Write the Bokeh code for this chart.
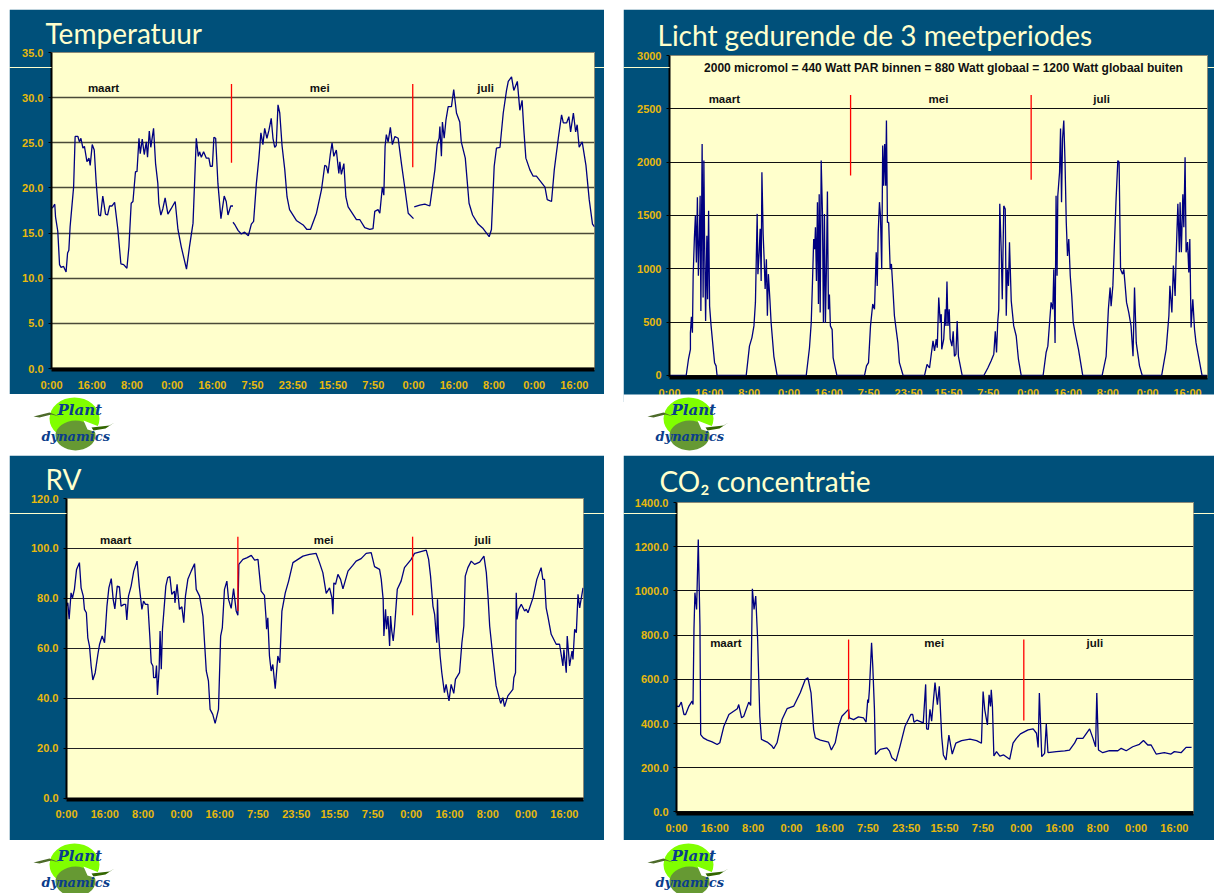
from bokeh.plotting import figure
from bokeh.embed import file_html
from bokeh.resources import INLINE
from bokeh.layouts import row, column
from bokeh.models import Range1d, FixedTicker, NumeralTickFormatter, LinearAxis
from bokeh.core.properties import value

nan = float("nan")
tick_hours = [0, 16, 32, 48, 64, 80, 96, 112, 128, 144, 160, 176, 192, 208]
tick_labels = ["0:00", "16:00", "8:00", "0:00", "16:00", "7:50", "23:50", "15:50", "7:50", "0:00", "16:00", "8:00", "0:00", "16:00"]
months = ["maart", "mei", "juli"]
note_text = "2000 micromol = 440 Watt PAR binnen = 880 Watt globaal = 1200 Watt globaal buiten"

temp_h = [0.3,1.3,1.6,2.5,3.2,3.8,4.8,5.8,6.4,6.9,7.4,8.0,8.8,9.4,10.5,11.1,11.7,12.5,13.1,14.1,14.9,15.4,16.2,17.0,17.8,18.8,19.5,20.4,21.5,22.3,23.1,24.1,25.1,26.4,27.6,28.7,30.0,30.8,31.7,32.4,33.4,34.0,34.8,35.3,36.1,36.9,37.7,38.2,38.9,39.5,40.6,41.4,42.3,42.7,43.5,44.3,45.2,46.3,47.6,49.2,50.3,51.6,53.7,54.9,56.3,57.6,58.4,58.9,59.6,60.5,61.6,62.6,63.2,64.0,64.6,65.3,66.2,67.4,68.7,69.5,70.2,71.3,72.2,nan,
 72.2,73.0,74.2,75.5,76.8,78.3,79.5,80.4,81.5,82.5,83.3,84.1,84.8,85.7,86.5,87.4,88.1,88.8,89.4,90.1,90.8,91.7,92.8,93.7,94.7,97.4,100.1,101.6,103.0,105.4,107.4,108.7,109.4,110.0,110.9,111.6,112.3,113.3,114.3,114.7,115.3,116.3,117.1,118.0,121.3,122.6,124.6,126.6,127.9,128.6,129.9,130.6,131.6,132.2,132.7,133.2,133.9,134.8,135.6,136.6,137.9,139.2,140.5,141.9,144.0,nan,
 144.3,146.5,148.5,150.5,152.5,153.4,154.2,154.5,155.1,155.5,156.2,156.9,157.8,159.1,160.0,161.1,162.4,163.0,164.6,166.1,167.5,169.7,171.7,174.1,175.0,176.1,177.0,178.4,179.7,181.0,181.7,183.0,183.9,185.3,186.3,187.2,187.9,188.7,190.3,191.6,192.9,196.3,197.2,198.9,200.0,201.6,202.9,203.6,204.9,205.8,206.5,207.6,208.5,209.1,209.9,211.1,212.6,213.9,215.2,216.0]
temp_v = [17.75,18.2,16.8,15.2,11.5,11.2,11.3,10.7,12.8,13.1,15.7,17.6,20.1,25.7,25.7,25.1,25.5,24.4,24.6,22.9,23.3,22.5,24.8,24.2,20.5,17.0,16.9,19.1,17.1,17.0,18.0,18.0,18.4,15.4,11.6,11.5,11.1,13.5,18.3,18.5,21.8,21.8,25.5,23.8,25.4,23.7,25.1,23.4,26.3,24.5,26.6,22.7,20.5,18.3,17.0,17.7,18.9,17.1,17.7,18.5,15.4,13.5,11.0,13.5,16.1,25.5,23.5,24.0,23.4,24.0,23.3,23.3,22.4,22.4,25.6,25.5,20.5,16.6,19.1,18.5,17.0,18.0,18.0,nan,
 16.2,15.9,15.3,14.9,15.1,14.7,16.0,16.3,20.5,23.3,26.1,24.8,26.6,25.5,26.4,27.7,25.5,24.5,24.7,29.2,28.3,24.7,22.0,19.0,17.6,16.4,15.9,15.4,15.4,17.2,19.8,22.5,22.4,21.6,23.7,25.0,23.5,24.2,21.6,22.9,21.5,22.7,19.0,17.9,16.5,16.5,15.6,15.4,15.5,17.4,17.6,17.2,20.1,19.2,24.6,25.9,25.1,26.7,24.8,25.7,25.5,22.7,20.1,17.2,16.6,nan,
 17.9,18.1,18.2,18.0,22.0,24.8,25.5,26.8,23.5,27.3,25.5,27.5,29.0,29.0,30.9,28.3,27.3,25.1,23.3,18.3,17.0,16.0,15.5,14.6,15.4,22.4,24.4,24.5,28.3,30.8,31.8,32.3,30.8,31.8,28.6,29.7,26.4,23.3,22.0,21.3,21.3,20.1,18.7,18.5,22.0,25.5,28.1,27.2,27.2,27.9,26.2,28.3,26.2,27.0,24.5,25.1,22.5,18.7,16.0,15.7]

licht_h = [0,6.7,7.6,8.4,8.4,8.8,9.2,9.5,10.0,10.4,10.8,11.2,11.6,12.0,12.3,12.6,13.1,13.5,13.8,14.1,14.5,15.0,15.3,15.7,16.1,16.7,17.7,18.1,18.7,19.1,30.8,32.1,33.1,33.9,34.5,35.2,35.5,36.0,36.4,36.8,37.1,37.6,38.0,38.4,38.9,39.3,39.7,40.3,40.8,41.9,43.2,54.9,56.2,56.9,57.4,57.9,58.3,58.6,59.0,59.4,59.8,60.1,60.5,60.9,61.4,61.8,62.2,62.6,63.0,63.4,63.8,64.2,64.6,65.3,65.7,67.2,78.3,79.1,79.9,80.7,81.6,82.3,83.0,83.4,83.8,84.3,84.7,85.2,85.6,86.0,86.4,86.8,87.1,87.5,88.0,88.6,89.1,89.7,90.3,91.0,91.7,92.3,93.8,102.4,103.4,104.4,105.0,105.8,106.4,107.1,107.5,108.1,108.7,109.1,109.3,110.1,110.7,111.0,111.4,111.8,112.3,112.7,113.4,113.9,114.4,115.0,115.5,116.0,117.5,126.2,127.8,129.1,130.2,130.8,131.3,131.8,132.2,132.6,133.2,133.6,134.2,134.8,135.2,135.6,136.1,136.5,137.2,138.2,139.2,140.1,141.2,150.0,151.2,151.9,152.6,153.2,153.9,154.3,154.8,155.2,155.6,155.9,156.6,157.0,157.4,157.8,158.3,158.8,159.3,159.8,160.3,160.9,161.5,162.1,163.1,164.2,165.9,173.7,175.3,176.2,176.9,177.3,178.0,179.3,180.0,180.5,181.1,181.9,182.4,182.8,183.5,184.4,185.3,186.1,186.7,187.4,188.7,189.8,197.6,199.4,200.5,200.9,201.7,202.3,203.0,203.4,204.1,204.7,205.0,205.5,206.1,206.5,207.0,207.4,208.0,208.5,208.9,209.4,210.1,210.8,211.4,212.4,213.8,215.7]
licht_v = [0,0,150,245,400,550,400,935,1295,1500,1060,1670,935,1310,1685,605,2170,730,2015,1250,510,1310,715,1545,650,465,215,120,90,0,0,275,355,465,685,1515,950,1155,1375,885,1905,1325,1090,810,1090,560,950,715,495,180,0,0,260,495,870,1280,1185,1390,885,1625,670,1700,590,2015,1530,495,1515,495,995,1725,620,760,465,430,165,0,0,90,120,465,670,620,1155,840,1340,1625,1500,995,2155,1780,2170,1780,2390,1435,1435,995,1045,810,560,430,305,120,0,0,105,70,180,325,230,340,260,730,495,575,245,340,620,465,880,465,620,340,275,415,180,200,510,180,0,0,70,135,200,415,215,510,620,1610,1155,715,1590,1560,560,995,840,1250,700,465,370,150,0,0,215,275,495,685,620,995,305,1685,935,1685,1905,2315,1625,2220,2390,2000,1435,1120,1280,935,745,495,370,245,0,0,180,620,825,650,840,1655,2015,2000,995,950,995,885,685,590,465,180,825,305,90,0,0,245,560,840,590,1030,745,1105,1610,1155,1625,1155,1700,1390,2045,1155,1250,965,1280,450,715,430,305,180,0,0]

rv_h = [0.0,0.55,1.1,1.9,2.5,3.3,4.2,5.4,6.1,7.0,7.5,8.3,8.9,9.6,10.3,11.0,12.0,13.1,13.8,14.9,15.9,16.9,17.7,18.7,19.5,20.2,21.2,22.1,22.8,24.0,24.7,25.2,25.9,27.0,28.1,29.5,30.4,31.5,32.2,33.0,34.0,34.8,35.4,36.1,36.4,37.2,37.6,38.0,38.7,39.1,39.6,40.1,41.5,42.3,43.2,44.0,45.1,45.3,46.2,47.2,48.2,49.0,49.7,50.7,52.1,53.5,54.2,55.6,57.0,58.4,59.3,60.0,61.1,62.1,63.5,64.4,65.1,66.0,67.0,67.7,68.8,69.8,70.9,71.6,72.0,73.7,75.5,77.2,78.6,80.0,81.3,82.7,83.4,83.6,84.1,84.8,85.5,86.2,87.2,88.3,89.1,90.0,91.4,92.8,94.6,96.7,98.8,101.5,104.3,105.7,107.1,108.5,109.9,110.9,111.3,111.7,112.4,113.4,114.5,115.5,117.6,119.6,121.0,123.1,125.2,127.3,128.7,130.8,131.5,132.3,132.6,133.3,133.7,134.3,135.0,135.4,135.9,136.5,137.1,138.2,139.8,141.2,144.0,145.4,150.3,151.3,152.1,153.1,153.8,154.7,155.0,155.4,156.1,156.8,157.9,158.6,159.8,160.7,161.8,162.5,164.2,165.2,166.0,166.6,167.7,169.1,170.5,172.6,174.4,175.4,176.1,176.8,178.1,179.5,181.4,182.3,183.0,184.4,186.5,186.9,187.6,187.9,188.2,188.9,190.0,191.4,192.1,192.8,194.9,196.5,198.3,199.0,199.7,200.4,201.1,202.5,204.6,206.0,207.4,207.8,208.8,209.2,210.2,211.2,211.6,212.3,213.0,213.7,214.4,215.8]
rv_v = [76.9,78.2,71.6,82.2,80.2,83.6,91.6,94.3,84.2,80.9,75.6,74.2,64.2,60.9,52.9,47.3,50.2,57.5,61.5,64.9,62.2,76.9,84.2,87.9,79.6,75.8,84.9,84.6,76.9,77.6,77.6,71.3,80.9,84.9,90.9,94.9,84.9,75.6,78.9,77.6,77.6,64.9,54.2,52.9,48.2,48.2,53.1,41.3,51.6,66.9,51.6,67.6,84.9,88.3,88.7,81.6,82.9,78.2,85.6,75.6,76.6,70.2,80.9,87.6,90.9,93.9,83.6,80.9,72.9,50.9,46.9,35.5,33.5,29.9,35.5,64.9,68.2,83.6,86.9,79.6,76.0,83.9,74.9,73.2,93.6,95.6,96.3,97.2,95.3,95.6,82.9,81.2,71.6,67.6,72.2,56.9,50.9,53.5,43.8,56.9,54.2,74.9,82.2,86.9,94.3,95.6,96.9,97.6,98.0,94.3,90.3,82.0,84.2,80.2,73.6,86.2,85.6,89.6,87.6,83.8,90.9,93.2,94.9,95.9,98.0,98.3,92.7,91.6,87.6,79.6,64.9,75.6,67.6,72.9,60.9,72.9,66.9,62.9,68.9,83.6,86.9,92.3,95.6,98.0,99.3,95.6,88.9,76.9,73.6,62.2,79.6,66.2,56.9,50.2,42.2,45.5,38.9,45.5,41.9,47.5,50.2,62.2,68.9,88.9,92.3,94.9,93.6,94.5,96.9,90.3,80.9,68.9,56.9,44.9,37.9,40.2,36.6,40.9,43.5,48.2,50.2,82.2,71.6,75.6,77.6,74.9,75.6,74.2,80.2,87.6,92.3,87.6,87.6,76.2,72.9,65.6,61.6,61.6,52.9,59.5,50.2,64.9,52.9,58.9,55.5,67.6,66.2,81.6,76.2,84.2]

co2_h = [0.1,1.0,2.0,3.1,3.8,5.2,6.5,6.9,7.3,7.7,8.4,9.1,9.8,10.1,11.2,12.9,14.9,17.0,18.1,19.8,21.9,25.4,26.0,27.2,28.1,30.2,31.0,31.7,32.4,33.1,33.9,34.8,35.5,37.9,39.9,40.6,42.0,44.1,46.2,49.0,51.7,53.8,54.9,56.2,57.3,58.0,60.1,63.5,64.7,66.3,67.7,69.1,71.9,72.2,74.0,76.0,78.1,79.2,79.9,80.2,80.6,81.5,82.0,82.7,83.1,83.7,85.1,87.9,89.0,90.0,91.7,93.4,95.5,97.9,98.7,99.2,100.4,103.1,104.1,104.5,105.2,105.9,106.6,108.0,109.0,109.8,110.8,111.5,112.6,113.8,115.2,116.7,119.1,122.6,125.4,127.4,128.1,128.8,129.9,130.6,131.2,131.5,132.0,132.6,133.7,135.1,136.7,139.2,140.6,142.0,143.7,146.9,149.0,150.4,151.1,151.6,152.2,152.6,153.8,154.5,155.2,158.7,162.2,164.2,166.3,167.3,169.8,172.6,174.0,175.1,175.6,176.3,178.1,180.9,184.4,185.8,187.9,190.6,193.4,195.1,196.9,198.3,200.4,203.8,206.6,208.0,210.8,212.9,215.2]
co2_v = [479,476,497,441,441,479,501,486,826,992,916,1233,841,350,335,325,317,305,313,388,441,467,486,426,433,497,482,1010,916,977,780,433,328,316,298,286,313,418,467,479,539,599,607,539,373,335,325,316,280,313,388,433,464,426,418,430,426,406,509,494,554,765,660,464,260,267,283,290,275,245,230,298,388,441,441,406,415,403,577,376,373,464,411,585,485,568,341,258,235,348,262,311,323,329,323,311,545,462,394,530,477,553,477,253,273,253,258,238,311,333,353,371,376,356,292,538,371,250,265,398,268,273,276,280,311,333,333,376,333,295,538,280,268,277,277,288,277,295,306,323,303,303,262,268,262,273,268,292,292]

panels = [
    dict(title="Temperatuur", h=temp_h, v=temp_v, ylow=-0.11, yhigh=35, ticks=[0,5,10,15,20,25,30,35], fmt="0.0",
         red_h=[71.6,143.7], red_top=[31.5,31.5], red_bot=[22.8,22.3], label_h=[20.7,106.7,172.7], label_v=31.1, rule_v=33.3,
         W=595, H=385, L=42, R=10, T=43, B=25, stand=9, tx=36, title_off=5, grid="#4a4a38", gw=1.6),
    dict(title="Licht gedurende de 3 meetperiodes", h=licht_h, v=licht_v, ylow=-19, yhigh=3000, ticks=[0,500,1000,1500,2000,2500,3000], fmt="0",
         red_h=[72.7,145.2], red_top=[2630,2630], red_bot=[1875,1835], label_h=[22,108,173.5], label_v=2594, rule_v=2886,
         W=591, H=393, L=46, R=7, T=46, B=25, stand=9, tx=34, title_off=8, grid="#111111", gw=1.2,
         note=note_text, note_h=110, note_v=2884),
    dict(title="RV", h=rv_h, v=rv_v, ylow=-0.6, yhigh=120, ticks=[0,20,40,60,80,100,120], fmt="0.0",
         red_h=[71.6,144.6], red_top=[104.7,104.7], red_bot=[74.9,73.2], label_h=[20.5,107.4,173.9], label_v=103.2, rule_v=114,
         W=595, H=385, L=57, R=21, T=43, B=41, stand=8, tx=36, title_off=5, grid="#222222", gw=1.2),
    dict(title="CO₂ concentratie", h=co2_h, v=co2_v, ylow=-7, yhigh=1400, ticks=[0,200,400,600,800,1000,1200,1400], fmt="0.0",
         red_h=[71.9,145.1], red_top=[780,780], red_bot=[419,414], label_h=[20.6,107.7,174.8], label_v=763, rule_v=1351,
         W=591, H=385, L=53, R=21, T=47, B=27, stand=8, tx=36, title_off=9, grid="#111111", gw=1.2),
]

NAVY = "#00507A"
CREAM = "#FFFFCC"
GOLD = "#E8B90C"
FONT = "Liberation Sans"


def make_panel(c, margin):
    p = figure(width=c["W"], height=c["H"], output_backend="svg", toolbar_location=None,
               x_range=Range1d(0, 216), y_range=Range1d(c["ylow"], c["yhigh"]),
               min_border_left=c["L"], min_border_right=c["R"], min_border_top=c["T"], min_border_bottom=c["B"],
               background_fill_color=CREAM, border_fill_color=NAVY, outline_line_color="#8a8a78", margin=margin,
               title=c["title"])
    p.title.text_color = CREAM
    p.title.text_font = "Lato"
    p.title.text_font_size = "28px"
    p.title.text_font_style = "normal"
    p.title.align = "left"
    p.title.offset = c["tx"] - c["L"]
    p.title.standoff = c["title_off"]
    p.xgrid.visible = False
    p.ygrid.grid_line_color = c["grid"]
    p.ygrid.grid_line_width = c["gw"]
    p.ygrid.ticker = FixedTicker(ticks=c["ticks"])
    # the pale slide rule left of the frame is a long minor tick of the value axis
    p.yaxis.ticker = FixedTicker(ticks=c["ticks"], minor_ticks=[c["rule_v"]])
    p.yaxis.formatter = NumeralTickFormatter(format=c["fmt"])
    p.yaxis.minor_tick_line_color = CREAM
    p.yaxis.minor_tick_out = c["L"]
    p.yaxis.minor_tick_in = 0
    p.yaxis.major_tick_out = 3
    p.yaxis.major_tick_in = 0
    p.yaxis.major_tick_line_color = "black"
    p.yaxis.axis_line_color = "black"
    p.yaxis.axis_line_width = 2
    # labels are offset from the longest tick, so pull them back next to the frame
    p.yaxis.major_label_standoff = 8 - c["L"]
    p.xaxis.ticker = FixedTicker(ticks=tick_hours)
    p.xaxis.major_label_overrides = dict(zip(tick_hours, tick_labels))
    p.xaxis.minor_tick_line_color = None
    p.xaxis.minor_tick_out = 0
    p.xaxis.minor_tick_in = 0
    p.xaxis.major_tick_line_color = None
    p.xaxis.major_tick_out = 0
    p.xaxis.major_tick_in = 0
    p.xaxis.axis_line_color = "black"
    p.xaxis.axis_line_width = 4
    p.xaxis.major_label_standoff = c["stand"]
    for ax in (p.xaxis, p.yaxis):
        ax.major_label_text_color = GOLD
        ax.major_label_text_font = FONT
        ax.major_label_text_font_size = "11px"
        ax.major_label_text_font_style = "bold"

    p.line(c["h"], c["v"], line_color="#000080", line_width=1.3)
    p.segment(c["red_h"], c["red_top"], c["red_h"], c["red_bot"], line_color="#FF0000", line_width=1.3)
    p.text(c["label_h"], [c["label_v"]] * 3, text=months, text_align="center", text_baseline="middle",
           text_font=value(FONT), text_font_size="11.5px", text_font_style="bold", text_color="#111111")
    if "note" in c:
        p.text([c["note_h"]], [c["note_v"]], text=[c["note"]], text_align="center", text_baseline="middle",
               text_font=value(FONT), text_font_size="12px", text_font_style="bold", text_color="#111111")

    right = LinearAxis(ticker=FixedTicker(ticks=[], minor_ticks=[c["rule_v"]]), axis_line_color=None,
                       major_tick_line_color=None, major_tick_in=0, major_tick_out=0, major_label_standoff=0,
                       minor_tick_line_color=CREAM, minor_tick_in=0, minor_tick_out=c["R"])
    p.add_layout(right, "right")
    return p


def make_logo(w, h, margin):
    """Green Plant Dynamics badge below a panel; coordinates are pixels of the strip."""
    lg = figure(width=w, height=h, output_backend="svg", toolbar_location=None,
                x_range=Range1d(0, w), y_range=Range1d(h, 0),
                x_axis_type=None, y_axis_type=None,
                min_border=0, outline_line_color=None, margin=margin, border_fill_color="white",
                background_fill_color="white")
    lg.grid.visible = False
    lg.ellipse([65], [24], width=[50], height=[42], fill_color="#80FF00", line_color=None)
    lg.ellipse([66], [41], width=[40], height=[30], fill_color="#669933", line_color=None)
    lg.patch([74, 92, 97, 88, 78], [26, 33, 33, 38, 35], fill_color="white", line_color=None)
    lg.patch([24, 40, 50, 42, 30], [22, 18, 22, 20, 23], fill_color="#4d6b2a", line_color=None)
    lg.patch([82, 100, 105, 96, 84], [33, 31, 28, 34, 36], fill_color="#336600", line_color=None)
    lg.text([48], [24], text=["Plant"], text_font=value("DejaVu Serif"), text_font_style="bold italic",
            text_font_size="15px", text_color="#0B3D8C", text_baseline="bottom")
    lg.text([32], [49], text=["dynamics"], text_font=value("DejaVu Serif"), text_font_style="bold italic",
            text_font_size="13px", text_color="#0B3D8C", text_baseline="bottom")
    return lg


p1 = make_panel(panels[0], (9, 0, 0, 9))
p2 = make_panel(panels[1], (9, 0, 0, 19))
p3 = make_panel(panels[2], (0, 0, 0, 9))
p4 = make_panel(panels[3], (0, 0, 0, 19))

l1 = make_logo(595, 61, (0, 0, 0, 9))
l2 = make_logo(591, 61, (-8, 0, 0, 19))
l3 = make_logo(595, 53, (0, 0, 0, 9))
l4 = make_logo(591, 53, (0, 0, 0, 19))

page = row(column(row(p1), row(l1), row(p3), row(l3)), column(row(p2), row(l2), row(p4), row(l4)), spacing=0)
open("out.html", "w").write(file_html(page, INLINE))
